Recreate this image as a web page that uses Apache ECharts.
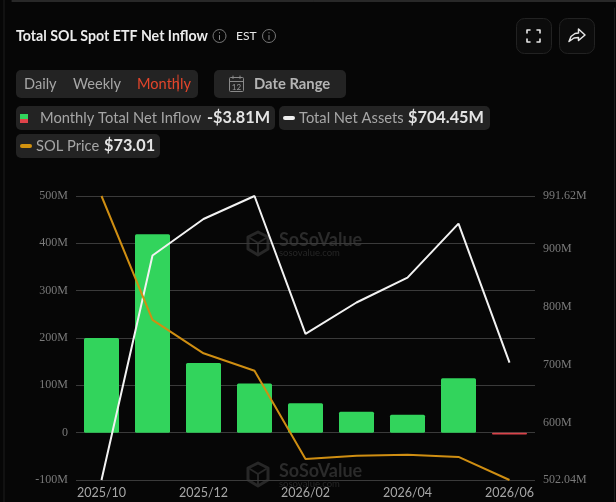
<!DOCTYPE html>
<html>
<head>
<meta charset="utf-8">
<title>Total SOL Spot ETF Net Inflow</title>
<style>
  html, body { margin: 0; padding: 0; background: #060606; }
  #chart { width: 616px; height: 502px; }
</style>
<script src="https://cdn.jsdelivr.net/npm/echarts@6/dist/echarts.min.js"></script>
</head>
<body>
<div id="chart"></div>
<script>
// Monthly figures, in millions of USD unless noted
const months = ['2025/10', '2025/11', '2025/12', '2026/01', '2026/02', '2026/03', '2026/04', '2026/05', '2026/06'];
const netInflow = [200, 419, 147, 104, 62, 44, 38, 115, -3.81];
const netAssets = [502.04, 889, 952, 991.62, 754, 808, 851, 944, 704.45];
const solPrice = [190, 139, 125.2, 118, 81.7, 83, 83.4, 82.5, 73.01]; // USD
const inflowTicks = { min: -100, max: 500, step: 100 };
const assetTicks = [502.04, 600, 700, 800, 900, 991.62];
const priceRange = [73.01, 190];

const LATO = 'Lato, "Noto Sans", sans-serif';
const SERIF = '"Liberation Serif", serif';
const CHIP = '#232323';
const MUTED = '#a6a6a6';
const VALUE = '#e4e4e4';

const rect = (x, y, width, height, fill, r = 5, extra = {}) => ({
  type: 'rect', shape: { x, y, width, height, r }, style: { fill, ...extra }, silent: true
});
const label = (x, y, text, font, fill, extra = {}) => ({
  type: 'text', x, y, silent: true,
  style: { text, fill, font, textVerticalAlign: 'middle', ...extra }
});
const stroke = (points, color, lineWidth, closed = false) => ({
  type: closed ? 'polygon' : 'polyline', silent: true, shape: { points },
  style: { stroke: color, lineWidth, fill: 'none', lineCap: 'round', lineJoin: 'round' }
});
const infoIcon = (cx, cy) => [
  { type: 'circle', shape: { cx, cy, r: 6.5 }, style: { stroke: '#777', lineWidth: 1, fill: 'none' }, silent: true },
  stroke([[cx, cy - 0.5], [cx, cy + 3.5]], '#888', 1),
  stroke([[cx, cy - 3.4], [cx, cy - 3]], '#888', 1)
];
// Faint brand mark: hexagon with inner cube strokes, name and address
const brandMark = (dy) => [
  stroke([[258, 232 + dy], [268, 237 + dy], [268, 249 + dy], [258, 255 + dy], [248, 249 + dy], [248, 237 + dy]], '#272727', 3, true),
  stroke([[250, 238 + dy], [258, 243 + dy], [266, 238 + dy]], '#272727', 2),
  stroke([[258, 243 + dy], [258, 253 + dy]], '#272727', 2),
  label(279, 240 + dy, 'SoSoValue', 'bold 18px ' + LATO, '#2b2b2b'),
  label(279, 253 + dy, 'sosovalue.com', '9.5px ' + LATO, '#262626')
];

const chrome = [
  // Panel edges
  stroke([[12, 1], [616, 1]], '#4a4a4a', 1),
  stroke([[4, 0], [4, 502]], '#1c1c1c', 1),
  stroke([[614.5, 8], [614.5, 502]], '#1c1c1c', 1),

  // Title row
  label(16, 36, 'Total SOL Spot ETF Net Inflow', 'bold 14.2px ' + LATO, '#ececec'),
  ...infoIcon(219.5, 36),
  label(236, 36, 'EST', '12px ' + LATO, '#e8e8e8'),
  ...infoIcon(269, 36),

  // Fullscreen and share buttons
  rect(516.5, 18.5, 35, 35, '#0c0c0c', 8, { stroke: '#222', lineWidth: 1 }),
  rect(559.5, 18.5, 35, 35, '#0c0c0c', 8, { stroke: '#222', lineWidth: 1 }),
  stroke([[527, 33], [527, 30], [530, 30]], '#e6e6e6', 1.6),
  stroke([[537, 30], [540, 30], [540, 33]], '#e6e6e6', 1.6),
  stroke([[527, 39], [527, 42], [530, 42]], '#e6e6e6', 1.6),
  stroke([[537, 42], [540, 42], [540, 39]], '#e6e6e6', 1.6),
  stroke([[569, 41.5], [571, 36.5], [575, 33.5], [578.5, 33], [578.5, 29], [585, 35], [578.5, 40.5], [578.5, 37.5], [574, 38], [569, 41.5]], '#e6e6e6', 1.5),

  // Period selector and date range
  rect(16, 70, 182, 28, CHIP),
  label(24, 84, 'Daily', '14.6px ' + LATO, MUTED),
  label(73, 84, 'Weekly', '14.6px ' + LATO, MUTED),
  label(137, 84, 'Monthly', '14.6px ' + LATO, '#e2452b'),
  stroke([[178, 75], [178, 91]], '#e2452b', 1),
  rect(214, 70, 132, 28, CHIP),
  rect(229.5, 77.5, 14, 14, 'none', 1, { stroke: '#8a8a8a', lineWidth: 1 }),
  stroke([[230, 81.5], [243, 81.5]], '#8a8a8a', 1),
  stroke([[233, 76], [233, 78.5]], '#8a8a8a', 1),
  stroke([[240, 76], [240, 78.5]], '#8a8a8a', 1),
  label(236.5, 87, '12', '8px ' + LATO, '#9a9a9a', { textAlign: 'center' }),
  label(254, 84, 'Date Range', 'bold 14.8px ' + LATO, '#b4b4b4'),

  // Latest-value legend chips
  rect(16, 106, 259, 24, CHIP),
  rect(20, 114, 8, 5, '#32d45c', 0),
  rect(20, 119, 8, 4, '#e0434a', 0),
  label(40, 118, 'Monthly Total Net Inflow', '14.7px ' + LATO, MUTED),
  label(207, 118, '-$3.81M', 'bold 16.3px ' + LATO, VALUE),
  rect(279, 106, 211, 24, CHIP),
  rect(283, 116, 12, 4, '#f0f0f0', 2),
  label(299, 118, 'Total Net Assets', '14.7px ' + LATO, MUTED),
  label(408, 118, '$704.45M', 'bold 16.3px ' + LATO, VALUE),
  rect(16, 134, 144, 24, CHIP),
  rect(20, 144, 12, 4, '#d2920f', 2),
  label(36, 146, 'SOL Price', '14.7px ' + LATO, MUTED),
  label(104, 146, '$73.01', 'bold 16.3px ' + LATO, VALUE),

  ...brandMark(0),
  ...brandMark(231)
];

const chart = echarts.init(document.getElementById('chart'), null, { renderer: 'canvas' });
const axisFont = { fontFamily: SERIF, fontSize: 12, color: '#7a7a7a', margin: 8, padding: [0, 0, 6, 0] };

chart.setOption({
  backgroundColor: '#060606',
  animation: false,
  grid: { left: 76, right: 81, top: 196, bottom: 22, containLabel: false },
  graphic: chrome,
  xAxis: {
    type: 'category',
    data: months,
    axisLine: { show: false },
    axisTick: { show: false },
    axisLabel: { interval: 1, fontFamily: LATO, fontSize: 12.5, color: MUTED, margin: 6, hideOverlap: false, showMinLabel: true, showMaxLabel: true }
  },
  yAxis: [
    {
      type: 'value',
      min: inflowTicks.min,
      max: inflowTicks.max,
      interval: inflowTicks.step,
      axisLine: { show: false },
      axisTick: { show: false },
      splitLine: { lineStyle: { color: '#3a3a3a', width: 1 } },
      axisLabel: { ...axisFont, formatter: (v) => (v === 0 ? '0' : v + 'M') }
    },
    {
      type: 'value',
      position: 'right',
      min: assetTicks[0],
      max: assetTicks[assetTicks.length - 1],
      axisLine: { show: false },
      axisTick: { show: false },
      splitLine: { show: false },
      axisLabel: { ...axisFont, customValues: assetTicks, formatter: (v) => v + 'M' }
    },
    {
      type: 'value',
      show: false,
      min: priceRange[0],
      max: priceRange[1],
      splitLine: { show: false }
    }
  ],
  series: [
    {
      name: 'Monthly Total Net Inflow',
      type: 'bar',
      yAxisIndex: 0,
      data: netInflow,
      barWidth: 35,
      itemStyle: {
        borderRadius: 1.5,
        color: (p) => (p.value >= 0 ? '#32d45c' : '#d9434a')
      }
    },
    {
      name: 'Total Net Assets',
      type: 'line',
      yAxisIndex: 1,
      data: netAssets,
      showSymbol: false,
      clip: false,
      z: 3,
      lineStyle: { color: '#f2f2f2', width: 2 }
    },
    {
      name: 'SOL Price',
      type: 'line',
      yAxisIndex: 2,
      data: solPrice,
      showSymbol: false,
      clip: false,
      z: 4,
      lineStyle: { color: '#cf8e12', width: 2 }
    }
  ]
});
</script>
</body>
</html>
